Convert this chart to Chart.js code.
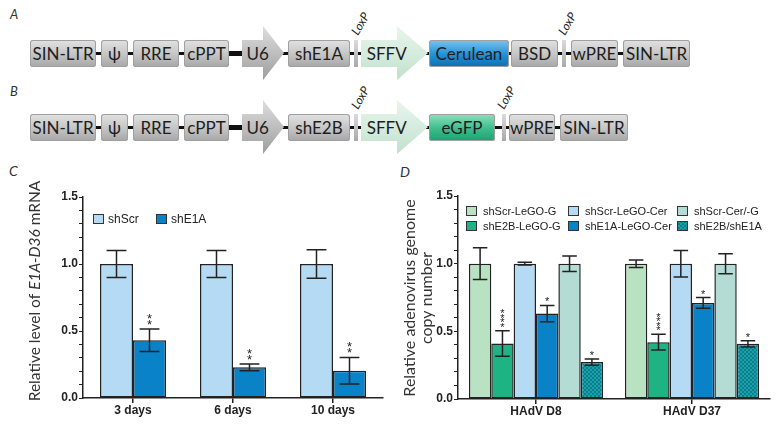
<!DOCTYPE html>
<html>
<head>
<meta charset="utf-8">
<script src="https://cdn.jsdelivr.net/npm/chart.js@4.4.1/dist/chart.umd.min.js"></script>
<style>
body { margin: 0; background: #fff; }
#page { position: relative; width: 783px; height: 425px; overflow: hidden; font-family: Lato, sans-serif; }
.tag { position: absolute; font-style: italic; font-size: 13px; color: #333; }
.wire { position: absolute; height: 3px; background: #111; }
.box { position: absolute; height: 27px; border-radius: 3px; box-sizing: border-box;
  background: linear-gradient(#e2e2e2, #c4c4c4 55%, #a6a6a6); box-shadow: inset 0 0 0 1px #a0a0a0;
  color: #1e1e1e; font-size: 17px; display: flex; align-items: center; justify-content: center; }
.box.blue { background: linear-gradient(#7cc3ec, #2290d4 55%, #0c6fb2); }
.box.green { background: linear-gradient(#8fe0bd, #3cbc8c 55%, #1ea070); }
.lox { position: absolute; height: 27px; width: 4px; background: linear-gradient(#dcdcdc, #a8a8a8); }
.arrow { position: absolute; height: 54px; color: #1e1e1e; font-size: 17px; display: flex; align-items: center; }
.arrow.gray { background: linear-gradient(#dedede, #b8b8b8 60%, #9c9c9c); }
.arrow.mint { background: linear-gradient(#e9f5ec, #d2eadb 60%, #bfe0c8); }
.loxp { position: absolute; width: 28px; height: 15px; line-height: 15px; text-align: center;
  font-style: italic; font-size: 12px; color: #222; transform: rotate(-60deg); transform-origin: center; }
.chart { position: absolute; top: 160px; }
</style>
</head>
<body>
<div id="page">
  <div id="diagram"></div>
  <div class="tag" style="left:9px;top:162px;font-size:14px">C</div>
  <div class="tag" style="left:400px;top:163px;font-size:14px">D</div>
  <div class="chart" style="left:0"><canvas id="chartC" width="395" height="265"></canvas></div>
  <div class="chart" style="left:395px"><canvas id="chartD" width="388" height="265"></canvas></div>
</div>
<script>
// ---- panel C data ----
var daysLabels = ['3 days', '6 days', '10 days'];
var shScr = [1.0, 1.0, 1.0];
var shScrErr = [0.10, 0.10, 0.107];
var shE1A = [0.431, 0.229, 0.204];
var shE1AErr = [0.084, 0.025, 0.099];
var shE1AStars = ['**', '**', '**'];

// ---- panel D data ----
var virusLabels = ['HAdV D8', 'HAdV D37'];
var scrG = [1.0, 1.0];
var scrGErr = [0.117, 0.028];
var e2bG = [0.41, 0.42];
var e2bGErr = [0.095, 0.058];
var scrCer = [1.0, 1.0];
var scrCerErr = [0.01, 0.098];
var e1aCer = [0.631, 0.71];
var e1aCerErr = [0.06, 0.04];
var scrCerG = [1.0, 1.0];
var scrCerGErr = [0.057, 0.074];
var e2bE1a = [0.273, 0.408];
var e2bE1aErr = [0.023, 0.023];
var e2bGStars = ['****', '****'];
var e1aCerStars = ['*', '*'];
var e2bE1aStars = ['*', '*'];

// ---- vector diagram (panels A and B) ----
var diagram = document.getElementById('diagram');
function add(cls, text, css) {
    var d = document.createElement('div');
    d.className = cls;
    d.textContent = text;
    d.style.cssText = css;
    diagram.appendChild(d);
    return d;
}
function box(text, x, x2, top, extra) {
    add('box' + (extra ? ' ' + extra : ''), text, 'left:' + x + 'px;top:' + top + 'px;width:' + (x2 - x) + 'px');
}
function arrow(text, x, body, tip, top, cls) {
    var w = tip - x, b = body - x;
    var d = add('arrow ' + cls, '', 'left:' + x + 'px;top:' + (top - 14) + 'px;width:' + w + 'px;' +
        'clip-path:polygon(0 14px,' + b + 'px 14px,' + b + 'px 0,' + w + 'px 27px,' + b + 'px 54px,' + b + 'px 41px,0 41px)');
    var s = document.createElement('span');
    s.textContent = text;
    s.style.cssText = 'width:' + (w - (w - b) / 2) + 'px;text-align:center;display:block';
    d.appendChild(s);
}
function loxLabel(cx, cy) {
    add('loxp', 'LoxP', 'left:' + (cx - 14) + 'px;top:' + (cy - 7.5) + 'px');
}
function row(top, variant) {
    add('wire', '', 'left:96px;top:' + (top + 12) + 'px;width:' + (variant === 'A' ? 530 : 468) + 'px');
    add('wire', '', 'left:228px;top:' + (top + 11) + 'px;width:16px;height:5px');
    box('SIN-LTR', 30, 96, top);
    box('\u03c8', 101, 128, top);
    box('RRE', 133, 179, top);
    box('cPPT', 184, 229, top);
    arrow('U6', 242, 263, 284, top, 'gray');
    box(variant === 'A' ? 'shE1A' : 'shE2B', 288, 350, top);
    add('lox', '', 'left:354px;top:' + top + 'px');
    arrow('SFFV', 361, 397, 428, top, 'mint');
    loxLabel(360, top - 17);
    if (variant === 'A') {
        box('Cerulean', 429, 509, top, 'blue');
        box('BSD', 511, 558, top);
        add('lox', '', 'left:562px;top:' + top + 'px');
        loxLabel(567, top - 17);
        box('wPRE', 571, 618, top);
        box('SIN-LTR', 623, 690, top);
    } else {
        box('eGFP', 429, 495, top, 'green');
        add('lox', '', 'left:502px;top:' + top + 'px');
        loxLabel(506, top - 17);
        box('wPRE', 509, 555, top);
        box('SIN-LTR', 560, 628, top);
    }
}
add('tag', 'A', 'left:10px;top:6px');
add('tag', 'B', 'left:10px;top:83px');
row(40, 'A');
row(114, 'B');

// ---- chart helpers ----
var FONT = "'Liberation Sans', Arial, sans-serif";
var INK = '#222';

function hatch(base, line) {
    var c = document.createElement('canvas');
    c.width = 4; c.height = 4;
    var g = c.getContext('2d');
    g.fillStyle = base;
    g.fillRect(0, 0, 4, 4);
    g.strokeStyle = line;
    g.lineWidth = 1;
    g.beginPath();
    g.moveTo(0, 0); g.lineTo(4, 4);
    g.moveTo(4, 0); g.lineTo(0, 4);
    g.stroke();
    return g.createPattern(c, 'repeat');
}

// error bars + significance stars
var errorBars = {
    id: 'errorBars',
    afterDatasetsDraw: function (chart, args, opts) {
        var ctx = chart.ctx, y = chart.scales.y;
        chart.data.datasets.forEach(function (ds, i) {
            chart.getDatasetMeta(i).data.forEach(function (bar, j) {
                var v = ds.data[j], e = ds.errors[j];
                var top = y.getPixelForValue(v + e), bot = y.getPixelForValue(v - e);
                var w = bar.width * opts.cap / 2;
                ctx.save();
                ctx.strokeStyle = INK;
                ctx.lineWidth = 1.5;
                ctx.beginPath();
                ctx.moveTo(bar.x, top); ctx.lineTo(bar.x, bot);
                ctx.moveTo(bar.x - w, top); ctx.lineTo(bar.x + w, top);
                ctx.moveTo(bar.x - w, bot); ctx.lineTo(bar.x + w, bot);
                ctx.stroke();
                var s = ds.stars ? ds.stars[j] : '';
                if (s) {
                    ctx.fillStyle = INK;
                    ctx.font = opts.starSize + 'px ' + FONT;
                    ctx.textAlign = 'center';
                    ctx.textBaseline = 'alphabetic';
                    var m = ctx.measureText('*');
                    var lift = -m.actualBoundingBoxDescent;   // glyph bottom above baseline
                    var gh = m.actualBoundingBoxAscent + m.actualBoundingBoxDescent;
                    var base = top - opts.starGap + lift;
                    for (var k = 0; k < s.length; k++) {
                        ctx.fillText('*', bar.x, base - k * (gh + opts.starSpace));
                    }
                }
                ctx.restore();
            });
        });
    }
};

// legend drawn at fixed grid positions
var boxLegend = {
    id: 'boxLegend',
    afterDraw: function (chart, args, opts) {
        var ctx = chart.ctx;
        ctx.save();
        ctx.font = opts.size + 'px ' + FONT;
        ctx.textBaseline = 'middle';
        ctx.textAlign = 'left';
        chart.data.datasets.forEach(function (ds, i) {
            var col = Math.floor(i / opts.rows), r = i % opts.rows;
            var x = opts.xs[col], yc = opts.ys[r];
            ctx.fillStyle = ds.backgroundColor;
            ctx.fillRect(x, yc - 5, 11, 10);
            ctx.strokeStyle = '#333';
            ctx.lineWidth = 1;
            ctx.strokeRect(x + 0.5, yc - 4.5, 10, 9);
            ctx.fillStyle = INK;
            ctx.fillText(ds.label, x + opts.gap, yc + 0.5);
        });
        ctx.restore();
    }
};

// rotated y-axis title with mixed styles
var sideTitle = {
    id: 'sideTitle',
    afterDraw: function (chart, args, opts) {
        var ctx = chart.ctx;
        ctx.save();
        ctx.fillStyle = '#333';
        ctx.textBaseline = 'middle';
        opts.lines.forEach(function (parts, li) {
            var widths = parts.map(function (p) {
                ctx.font = (p[1] ? 'italic ' : '') + opts.size + 'px Lato, sans-serif';
                return ctx.measureText(p[0]).width;
            });
            var total = widths.reduce(function (a, b) { return a + b; }, 0);
            ctx.save();
            ctx.translate(opts.xs[li], opts.y);
            ctx.rotate(-Math.PI / 2);
            var pos = -total / 2;
            parts.forEach(function (p, k) {
                ctx.font = (p[1] ? 'italic ' : '') + opts.size + 'px Lato, sans-serif';
                ctx.textAlign = 'left';
                ctx.fillText(p[0], pos, 0);
                pos += widths[k];
            });
            ctx.restore();
        });
        ctx.restore();
    }
};

function scales(leftWidth, bottomHeight) {
    return {
        x: {
            offset: true,
            grid: { offset: false, drawOnChartArea: false, tickLength: 5, color: INK, lineWidth: 1.5 },
            border: { color: INK, width: 1.5 },
            ticks: { color: INK, font: { family: FONT, size: 12, weight: 'bold' }, padding: 0, maxRotation: 0 },
            afterFit: function (s) { s.height = bottomHeight; }
        },
        y: {
            min: 0, max: 1.5,
            grid: { drawOnChartArea: false, tickLength: 4, color: INK, lineWidth: 1 },
            border: { color: INK, width: 1.5 },
            ticks: {
                stepSize: 0.1, autoSkip: false, padding: 1, color: INK,
                font: { family: FONT, size: 12, weight: 'bold' },
                callback: function (v) {
                    return Math.abs(v * 2 - Math.round(v * 2)) < 1e-6 ? v.toFixed(1) : '';
                }
            },
            afterFit: function (s) { s.width = leftWidth; }
        }
    };
}

Chart.defaults.font.family = FONT;

// ---- Chart C ----
new Chart(document.getElementById('chartC'), {
    type: 'bar',
    data: {
        labels: daysLabels,
        datasets: [
            { label: 'shScr', data: shScr, errors: shScrErr, backgroundColor: '#b5daf3',
              borderColor: INK, borderWidth: 1.5, borderSkipped: false },
            { label: 'shE1A', data: shE1A, errors: shE1AErr, stars: shE1AStars, backgroundColor: '#0a82c8',
              borderColor: INK, borderWidth: 1.5, borderSkipped: false }
        ]
    },
    options: {
        responsive: false,
        animation: false,
        layout: { padding: { top: 37, right: 12, left: 0, bottom: 0 } },
        datasets: { bar: { categoryPercentage: 0.66, barPercentage: 1 } },
        plugins: {
            legend: { display: false },
            tooltip: { enabled: false },
            errorBars: { cap: 0.6, starSize: 13, starGap: 4, starSpace: 1 },
            boxLegend: { rows: 1, xs: [93, 156], ys: [59], gap: 15, size: 12 },
            sideTitle: { size: 15.5, xs: [35], y: 131, lines: [[['Relative level of ', false], ['E1A-D36', true], [' mRNA', false]]] }
        },
        scales: scales(83, 27)
    },
    plugins: [errorBars, boxLegend, sideTitle]
});

// ---- Chart D ----
var hatchTeal = hatch('#1aa0aa', '#0b7f8a');
new Chart(document.getElementById('chartD'), {
    type: 'bar',
    data: {
        labels: virusLabels,
        datasets: [
            { label: 'shScr-LeGO-G', data: scrG, errors: scrGErr, backgroundColor: '#b8e2c2' },
            { label: 'shE2B-LeGO-G', data: e2bG, errors: e2bGErr, stars: e2bGStars, backgroundColor: '#1db382' },
            { label: 'shScr-LeGO-Cer', data: scrCer, errors: scrCerErr, backgroundColor: '#b5daf3' },
            { label: 'shE1A-LeGO-Cer', data: e1aCer, errors: e1aCerErr, stars: e1aCerStars, backgroundColor: '#0a82c8' },
            { label: 'shScr-Cer/-G', data: scrCerG, errors: scrCerGErr, backgroundColor: '#b4dcd4' },
            { label: 'shE2B/shE1A', data: e2bE1a, errors: e2bE1aErr, stars: e2bE1aStars, backgroundColor: hatchTeal }
        ]
    },
    options: {
        responsive: false,
        animation: false,
        layout: { padding: { top: 36, right: 13, left: 0, bottom: 0 } },
        datasets: { bar: { categoryPercentage: 0.86, barPercentage: 1, borderColor: INK, borderWidth: 1.5, borderSkipped: false } },
        plugins: {
            legend: { display: false },
            tooltip: { enabled: false },
            errorBars: { cap: 0.65, starSize: 11, starGap: 4, starSpace: 0.5 },
            boxLegend: { rows: 2, xs: [71, 173, 282], ys: [51, 66], gap: 17, size: 11 },
            sideTitle: { size: 16, xs: [15, 32], y: 138, lines: [[['Relative adenovirus genome', false]], [['copy number', false]]] }
        },
        scales: scales(63, 26)
    },
    plugins: [errorBars, boxLegend, sideTitle]
});
</script>
</body>
</html>
